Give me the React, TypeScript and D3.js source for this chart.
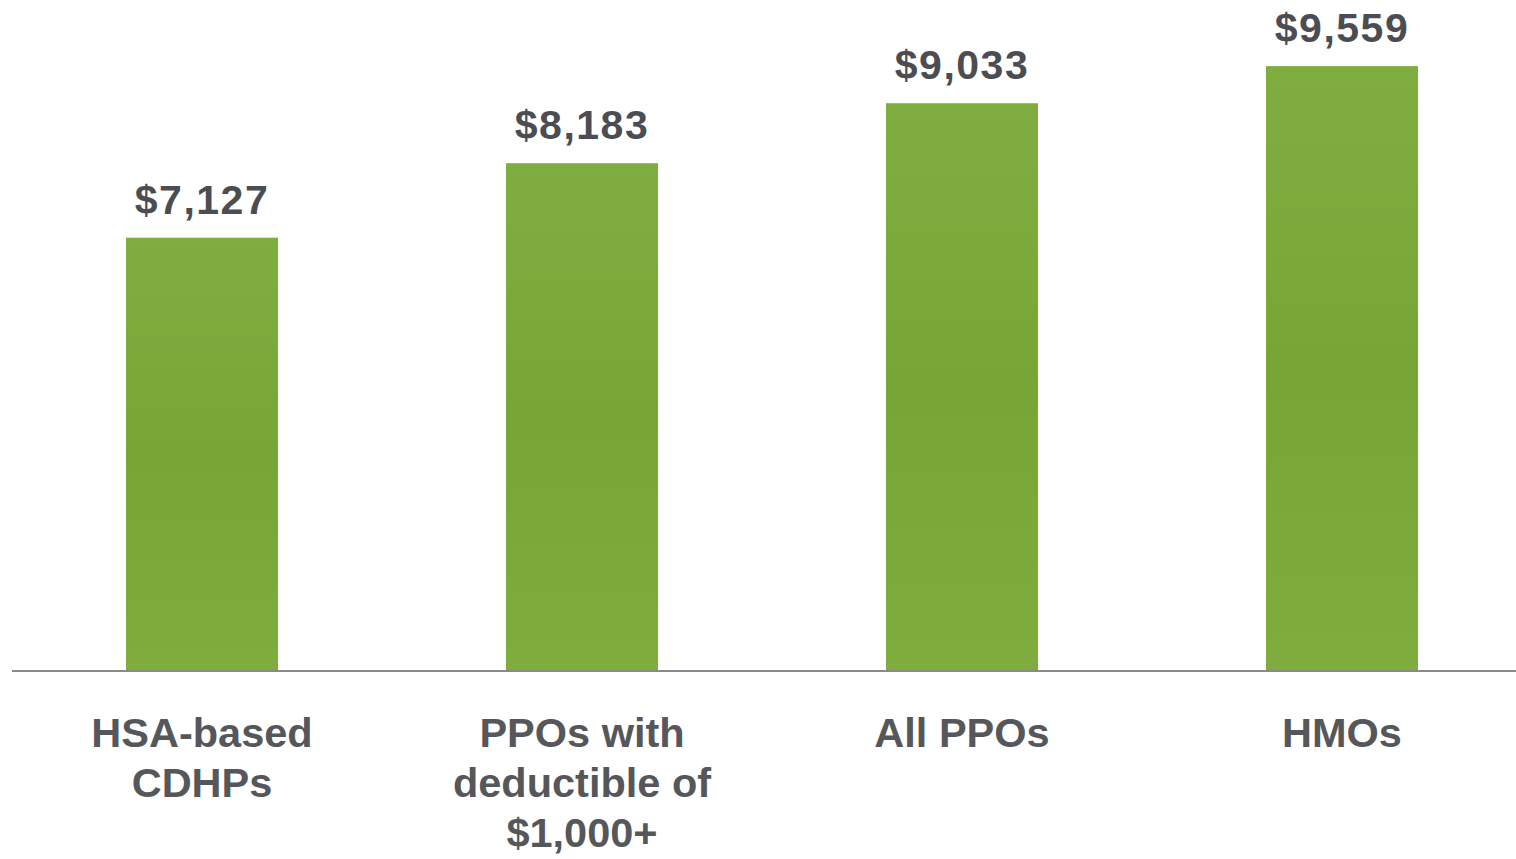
import React from "react";
import * as d3 from "d3";

const categories: string[][] = [
  ["HSA-based", "CDHPs"],
  ["PPOs with", "deductible of", "$1,000+"],
  ["All PPOs"],
  ["HMOs"],
];
const values: number[] = [7127, 8183, 9033, 9559];
const yDomain: [number, number] = [1000, 10000];

const W = 1516;
const H = 859;

export default function App() {
  const keys = categories.map((c) => c.join(" "));
  const x = d3.scaleBand<string>().domain(keys).range([12, 1532]).paddingInner(0.6).paddingOuter(0.3);
  const y = d3.scaleLinear().domain(yDomain).range([670, 35]);
  const fmt = d3.format("$,");
  return (
    <svg width={W} height={H} style={{ position: "absolute", left: 0, top: 0, background: "#fff" }}>
      <defs>
        <linearGradient id="barg" x1="0" y1="0" x2="0" y2="1">
          <stop offset="0" stopColor="#80ad40" />
          <stop offset="0.5" stopColor="#77a636" />
          <stop offset="1" stopColor="#7fad3d" />
        </linearGradient>
      </defs>
      {values.map((v, i) => (
        <rect key={i} x={x(keys[i])} y={y(v)} width={x.bandwidth()} height={y(yDomain[0]) - y(v)} fill="url(#barg)" />
      ))}
      <line x1={12} x2={W} y1={671} y2={671} stroke="#8a8a8a" strokeWidth={2} />
      {values.map((v, i) => (
        <text
          key={"v" + i}
          x={(x(keys[i]) as number) + x.bandwidth() / 2}
          y={y(v) - 24}
          textAnchor="middle"
          fontFamily="Liberation Sans, Arial, sans-serif"
          fontWeight="bold"
          fontSize={41}
          letterSpacing={1.5}
          fill="#4b4d52"
        >
          {fmt(v)}
        </text>
      ))}
      {categories.map((lines, i) => (
        <text
          key={"c" + i}
          x={(x(keys[i]) as number) + x.bandwidth() / 2}
          textAnchor="middle"
          fontFamily="Liberation Sans, Arial, sans-serif"
          fontWeight="bold"
          fontSize={41.5}
          fill="#55575b"
        >
          {lines.map((l, j) => (
            <tspan key={j} x={(x(keys[i]) as number) + x.bandwidth() / 2} y={747 + j * 50}>
              {l}
            </tspan>
          ))}
        </text>
      ))}
    </svg>
  );
}
